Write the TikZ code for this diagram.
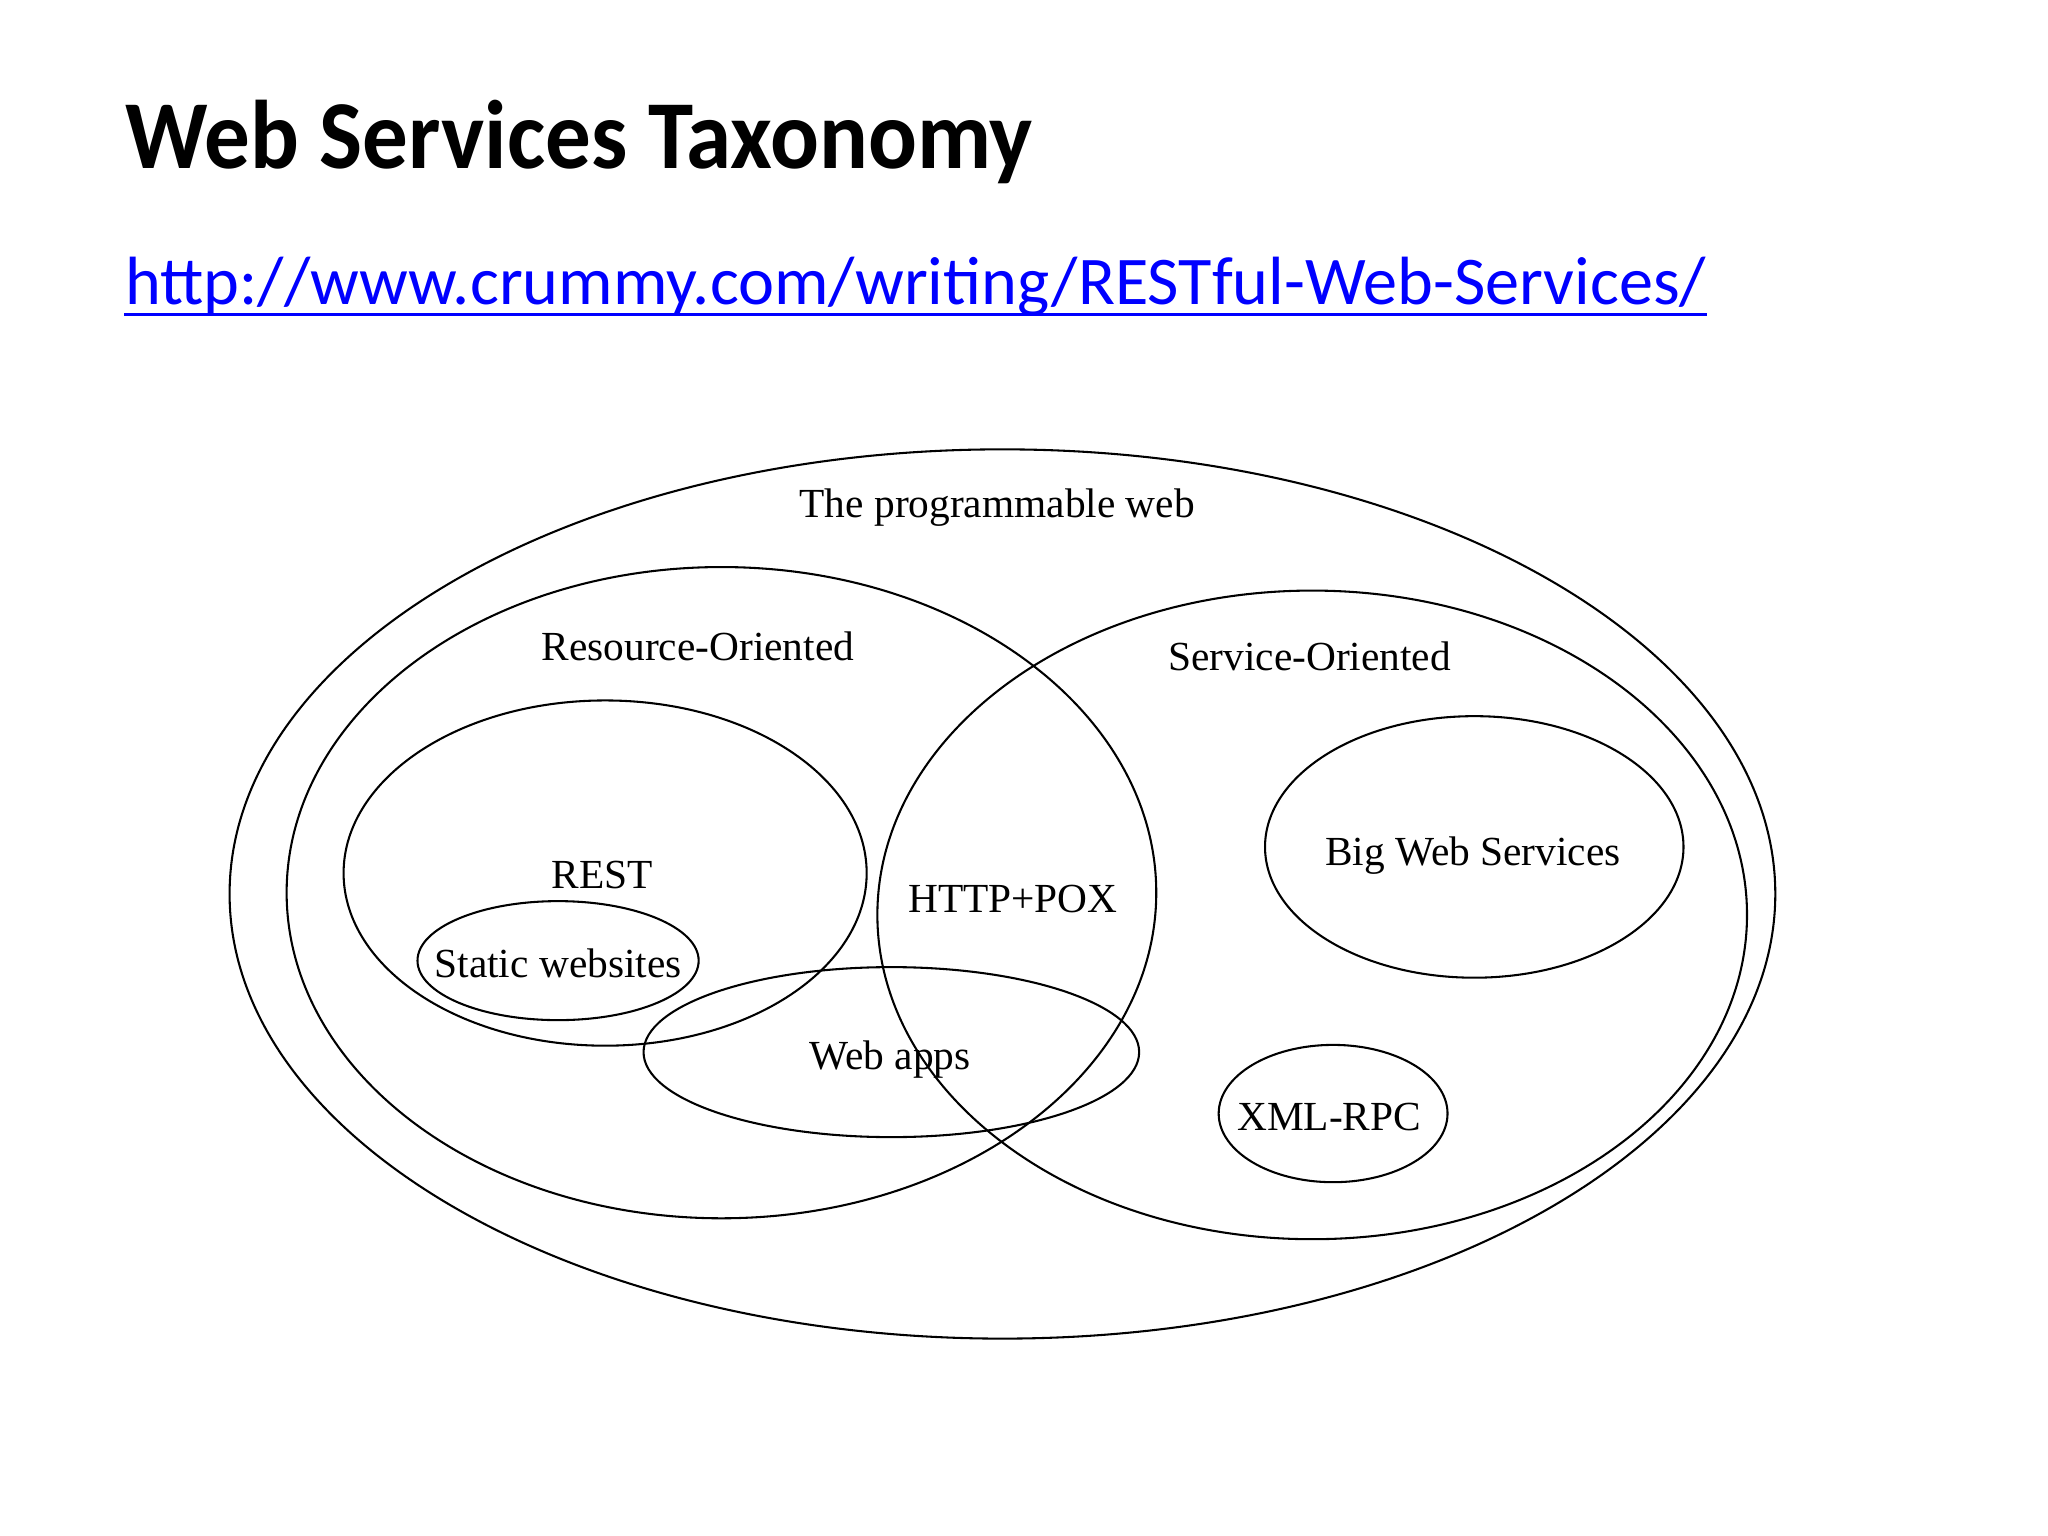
\documentclass[tikz,border=0pt]{standalone}
\usepackage{fontspec}
\setmainfont{Liberation Serif}
\newfontfamily\slidefont{Carlito}
\usetikzlibrary{shapes.geometric}
\definecolor{linkblue}{RGB}{0,0,255}

\begin{document}
\begin{tikzpicture}[
x=0.01cm, y=-0.01cm,
set/.style 2 args = {ellipse, draw, line width=0.45pt, inner sep=0pt,
                     minimum width=#1, minimum height=#2},
lbl/.style = {inner sep=0pt, text height=1.5ex, text depth=0pt,
              font=\fontsize{9pt}{10pt}\selectfont}
                        ]
\useasboundingbox (0,0) rectangle (1567,1175);
\fill[white] (0,0) rectangle (1567,1175);

% slide heading
\node[anchor=base west, inner sep=0pt, font=\slidefont\bfseries\fontsize{21.2pt}{24pt}\selectfont]
    (title) at (95,129) {\scalebox{0.935}[1]{Web Services Taxonomy}};
\node[anchor=base west, inner sep=0pt, text=linkblue, font=\slidefont\fontsize{14.85pt}{18pt}\selectfont]
    (url) at (95,233) {http://www.crummy.com/writing/RESTful-Web-Services/};
\draw[linkblue, line width=0.6pt] ([yshift=-2.2pt]url.base west) -- ([yshift=-2.2pt]url.base east);

% the sets
\node[set={11.82cm}{6.80cm}] (web)    at (767,684)  {};
\node[set={6.65cm}{4.98cm}]  (res)    at (552,683)  {};
\node[set={6.65cm}{4.96cm}]  (svc)    at (1004,700) {};
\node[set={4.00cm}{2.64cm}]  (rest)   at (463,668)  {};
\node[set={2.15cm}{0.91cm}]  (static) at (427,735)  {};
\node[set={3.79cm}{1.30cm}]  (apps)   at (682,805)  {};
\node[set={3.20cm}{2.00cm}]  (big)    at (1128,648) {};
\node[set={1.75cm}{1.05cm}]  (xml)    at (1020,852) {};

% their names
\node[lbl] (webname)    at (763,384)  {The programmable web};
\node[lbl] (resname)    at (534,493)  {Resource-Oriented};
\node[lbl] (svcname)    at (1002,501) {Service-Oriented};
\node[lbl] (restname)   at (461,668)  {REST};
\node[lbl] (staticname) at (427,736)  {Static websites};
\node[lbl] (poxname)    at (775,686)  {HTTP+POX};
\node[lbl] (bigname)    at (1127,650) {Big Web Services};
\node[lbl] (appsname)   at (681,806)  {Web apps};
\node[lbl] (xmlname)    at (1017,853) {XML-RPC};

\end{tikzpicture}
\end{document}
